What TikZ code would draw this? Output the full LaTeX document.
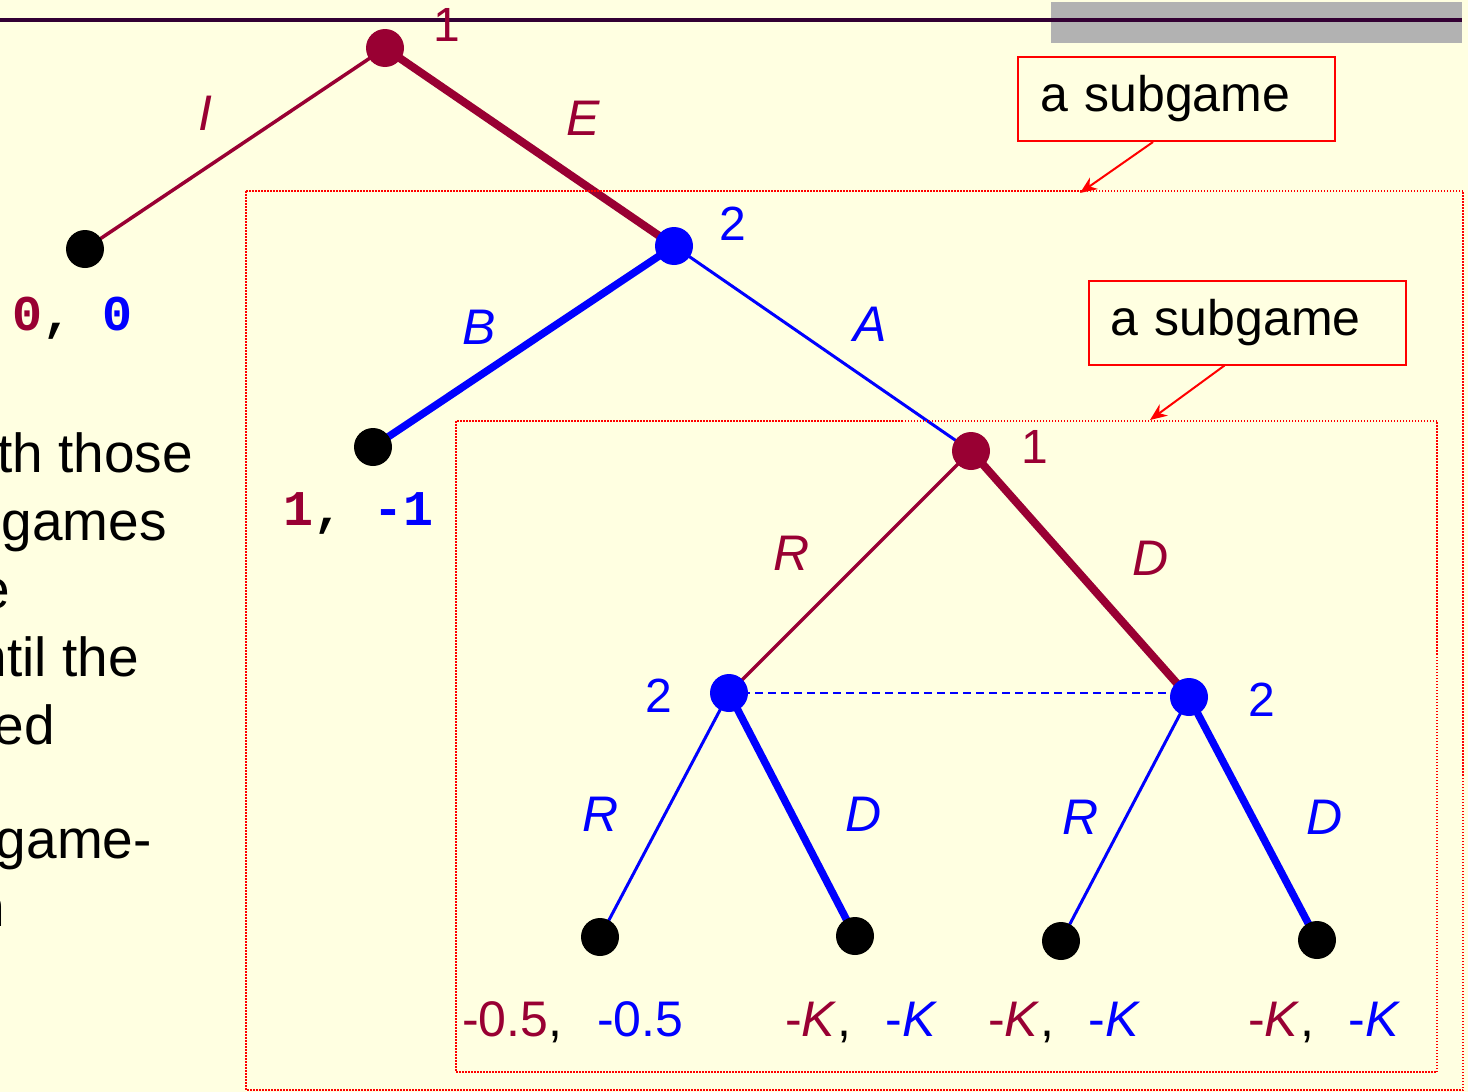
\documentclass[tikz,border=0pt]{standalone}
\usepackage{fontspec}
\setmainfont{Liberation Sans}
\newfontfamily\monofont{Liberation Mono}
\usetikzlibrary{arrows.meta,calc,backgrounds}
\definecolor{mar}{HTML}{990033}
\definecolor{blu}{HTML}{0000FF}
\definecolor{bgy}{HTML}{FFFFE1}
\definecolor{topl}{HTML}{330033}
\definecolor{gry}{HTML}{B2B2B2}
\begin{document}
\begin{tikzpicture}[x=1pt,y=-1pt,
  dotm/.style={circle,fill=mar,minimum size=38pt,inner sep=0pt},
  dotb/.style={circle,fill=blu,minimum size=38pt,inner sep=0pt},
  dotk/.style={circle,fill=black,minimum size=38pt,inner sep=0pt},
  thinm/.style={draw=mar,line width=3.5pt},
  thickm/.style={draw=mar,line width=8pt},
  thinb/.style={draw=blu,line width=3pt},
  thickb/.style={draw=blu,line width=7.5pt},
  infoset/.style={draw=blu,line width=2pt,dash pattern=on 8pt off 5pt},
  plabm/.style={text=mar,font=\fontsize{48}{56}\selectfont,inner sep=0pt},
  plabb/.style={text=blu,font=\fontsize{48}{56}\selectfont,inner sep=0pt},
  alabm/.style={text=mar,font=\fontsize{50}{60}\selectfont\itshape,inner sep=0pt},
  alabb/.style={text=blu,font=\fontsize{50}{60}\selectfont\itshape,inner sep=0pt},
  subbox/.style={draw=red,line width=2pt,minimum width=317pt,minimum height=84pt,
    text width=273pt,inner xsep=22pt,align=left,font=\fontsize{50}{60}\selectfont},
  sgframe/.style={draw=red,line width=1.5pt,dash pattern=on 1.5pt off 1.5pt},
  callout/.style={draw=red,line width=2pt,-{Stealth[length=17pt,width=14pt]}},
  pay/.style={anchor=base west,inner sep=0pt,font=\fontsize{50}{58}\selectfont},
  mpay/.style={anchor=base west,inner sep=0pt,font=\fontsize{50}{60}\selectfont\monofont\bfseries},
  body/.style={anchor=base east,inner sep=0pt,font=\fontsize{55}{66}\selectfont}
]
\useasboundingbox (0,0) rectangle (1468,1092);

% tree nodes
\node[dotm] (r)  at (385,48)  {};
\node[dotk] (lI) at (85,249)  {};
\node[dotb] (n2) at (674,246) {};
\node[dotk] (lB) at (373,447) {};
\node[dotm] (n1) at (971,451) {};
\node[dotb] (nL) at (729,693) {};
\node[dotb] (nR) at (1189,697) {};
\node[dotk] (l1) at (600,937) {};
\node[dotk] (l2) at (855,936) {};
\node[dotk] (l3) at (1061,941) {};
\node[dotk] (l4) at (1317,940) {};

\begin{pgfonlayer}{background}
  \fill[bgy] (0,0) rectangle (1468,1092);
  \fill[gry] (1051,2) rectangle (1462,43);
  \draw[topl,line width=4pt] (0,20) -- (1462,20);
  \draw[thinm]  (r.center) -- (lI.center);
  \draw[thickm] (r.center) -- (n2.center);
  \draw[thickb] (n2.center) -- (lB.center);
  \draw[thinb]  (n2.center) -- (n1.center);
  \draw[thinm]  (n1.center) -- (nL.center);
  \draw[thickm] (n1.center) -- (nR.center);
  \draw[thinb]  (nL.center) -- (l1.center);
  \draw[thickb] (nL.center) -- (l2.center);
  \draw[thinb]  (nR.center) -- (l3.center);
  \draw[thickb] (nR.center) -- (l4.center);
  \draw[infoset] (nL.center) -- (nL.center -| nR.center);
\end{pgfonlayer}

% player labels
\node[plabm] (p1) at (447,25)   {1};
\node[plabb] (p2) at (733,224)  {2};
\node[plabm] (p3) at (1035,447) {1};
\node[plabb] (p4) at (659,696)  {2};
\node[plabb] (p5) at (1262,700) {2};

% action labels
\node[alabm] (aI) at (205,113) {I};
\node[alabm] (aE) at (583,118) {E};
\node[alabb] (aB) at (479,327) {B};
\node[alabb] (aA) at (870,324) {A};
\node[alabm] (aR) at (792,553) {R};
\node[alabm] (aD) at (1151,558) {D};
\node[alabb] (bR1) at (601,814)  {R};
\node[alabb] (bD1) at (864,814)  {D};
\node[alabb] (bR2) at (1081,817) {R};
\node[alabb] (bD2) at (1325,817) {D};

% payoffs
\node[mpay] (q0) at (12,330)  {\textcolor{mar}{0}, \textcolor{blu}{0}};
\node[mpay] (q1) at (283,525) {\textcolor{mar}{1}, \textcolor{blu}{-1}};
\node[pay] (q2) at (462,1036) {\textcolor{mar}{-0.5},\hspace{0.7em}\textcolor{blu}{-0.5}};
\node[pay] (q3) at (785,1036) {\textcolor{mar}{-\textit{K}},\hspace{0.7em}\textcolor{blu}{-\textit{K}}};
\node[pay] (q4) at (988,1036) {\textcolor{mar}{-\textit{K}},\hspace{0.7em}\textcolor{blu}{-\textit{K}}};
\node[pay] (q5) at (1248,1036) {\textcolor{mar}{-\textit{K}},\hspace{0.7em}\textcolor{blu}{-\textit{K}}};

% subgame frames
\coordinate (o1) at (246,191);
\coordinate (o2) at (1463,1090);
\draw[sgframe] (o1) rectangle (o2);
\coordinate (i1) at (456,421);
\coordinate (i2) at (1437,1072);
\draw[sgframe] (i1) rectangle (i2);

% callouts
\node[subbox] (s1) at (1176.5,99)  {a subgame};
\node[subbox] (s2) at (1247,322.5) {a subgame};
\coordinate (t1) at (1080,193);
\coordinate (t2) at (1150,420);
\draw[callout] ($(s1.south west)+(136,0)$) -- (t1);
\draw[callout] ($(s2.south west)+(137,0)$) -- (t2);

% clipped body text at left
\node[body] (x1) at (193,472) {th those};
\node[body] (x2) at (167,540) {games};
\node[body] (x3) at (10,608)  {e};
\node[body] (x4) at (139,676) {ntil the};
\node[body] (x5) at (55,744)  {ed};
\node[body] (x6) at (152,858) {game-};
\node[body] (x7) at (5,926)   {n};
\end{tikzpicture}
\end{document}
